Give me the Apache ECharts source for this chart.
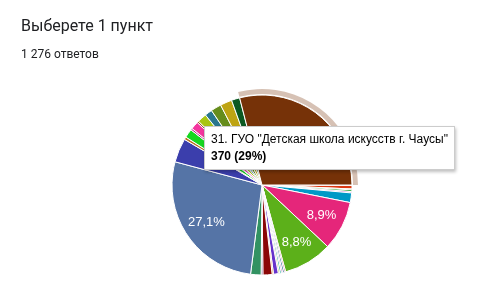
<!DOCTYPE html>
<html>
<head>
<meta charset="utf-8">
<script src="https://cdn.jsdelivr.net/npm/echarts@6/dist/echarts.min.js"></script>
<style>
  html, body { margin: 0; padding: 0; background: #fff; }
  #chart { width: 478px; height: 306px; }
</style>
</head>
<body>
<div id="chart"></div>
<script>
// Answer options of the question, in form order
const categories = [
  '1.', '2.', '3.', '4.', '5.', '6.', '7.', '8.', '9.', '10.',
  '11.', '12.', '13.', '14.', '15.', '16.', '17.', '18.', '19.', '20.',
  '21.', '22.', '23.', '24.', '25.', '26.', '27.', '28.', '29.', '30.',
  '31. ГУО "Детская школа искусств г. Чаусы"'
];

// Number of responses per option
const responses = [
  1, 8, 2, 4, 3, 22, 113, 112, 3, 4,
  3, 4, 3, 11, 3, 21, 4, 24, 346, 55,
  6, 20, 4, 18, 4, 21, 17, 24, 27, 19,
  370
];

// Slice colours, one per option
const sliceColors = [
  '#3366cc', '#dc3912', '#ff9900', '#109618', '#990099', '#0099c6', '#e5267a', '#5cb01a', '#b82e2e', '#316395',
  '#994499', '#22aa99', '#aaaa11', '#6633cc', '#e67300', '#8b0707', '#651067', '#329262', '#5574a6', '#3b3eac',
  '#b77322', '#16d620', '#b91383', '#f4359e', '#9c5935', '#a9c413', '#2a778d', '#668d1c', '#bea413', '#0c5922',
  '#763208'
];

const questionTitle = 'Выберете 1 пункт';
const hoveredIndex = 30;

const total = responses.reduce((a, b) => a + b, 0);
const fmtThousands = n => String(n).replace(/\B(?=(\d{3})+(?!\d))/g, ' ');
const fmtPct = v => String(Number((v / total * 100).toFixed(1))).replace('.', ',') + '%';

const CENTER = [262, 185];
const R = 90;
const FONT = "Arial, 'Liberation Sans', sans-serif";

const chart = echarts.init(document.getElementById('chart'), null, { renderer: 'canvas' });

chart.setOption({
  animation: false,
  title: [
    {
      text: questionTitle, left: 16, top: 14,
      textStyle: { fontFamily: 'Roboto', fontSize: 16, fontWeight: 'normal', color: '#202124' }
    },
    {
      text: fmtThousands(total) + ' ответов', left: 16, top: 44,
      textStyle: { fontFamily: 'Roboto', fontSize: 12, fontWeight: 'normal', color: '#202124' }
    }
  ],
  tooltip: {
    trigger: 'item',
    triggerOn: 'none',
    alwaysShowContent: true,
    transitionDuration: 0,
    position: [204, 126],
    backgroundColor: '#fff',
    borderColor: '#cccccc',
    borderWidth: 1,
    padding: [4, 6],
    extraCssText: 'border-radius:0;box-shadow:1px 2px 3px rgba(0,0,0,0.25);',
    formatter: p => '<div style="font:12px ' + FONT.replace(/"/g, "'") + ';color:#000;line-height:17px;white-space:nowrap">' +
      p.name + '<br><b>' + p.value + ' (' + fmtPct(p.value) + ')</b></div>'
  },
  series: [
    {
      // main pie
      type: 'pie',
      center: CENTER,
      radius: [0, R],
      startAngle: 0,
      clockwise: true,
      emphasis: { scale: false },
      label: { show: false },
      labelLine: { show: false },
      itemStyle: { borderColor: '#fff', borderWidth: 1 },
      data: categories.map((name, i) => ({
        name, value: responses[i], itemStyle: { color: sliceColors[i] }
      })),
      z: 2
    },
    {
      // hover halo round the highlighted slice
      type: 'pie',
      center: CENTER,
      radius: [R + 1, R + 6],
      startAngle: 0,
      clockwise: true,
      silent: true,
      tooltip: { show: false },
      label: { show: false },
      labelLine: { show: false },
      data: categories.map((name, i) => ({
        name, value: responses[i],
        itemStyle: { color: i === hoveredIndex ? 'rgba(118,50,8,0.3)' : 'rgba(0,0,0,0)' }
      })),
      z: 1
    },
    {
      // percentage labels on the larger slices
      type: 'pie',
      center: CENTER,
      radius: [38, R],
      startAngle: 0,
      clockwise: true,
      silent: true,
      tooltip: { show: false },
      avoidLabelOverlap: false,
      itemStyle: { color: 'rgba(0,0,0,0)' },
      labelLine: { show: false },
      label: {
        show: true,
        position: 'inside',
        color: '#fff',
        fontFamily: FONT,
        fontSize: 13,
        formatter: p => (p.value / total >= 0.05 ? fmtPct(p.value) : '')
      },
      data: categories.map((name, i) => ({ name, value: responses[i] })),
      z: 3
    }
  ]
});

chart.dispatchAction({ type: 'showTip', seriesIndex: 0, dataIndex: hoveredIndex });
</script>
</body>
</html>
